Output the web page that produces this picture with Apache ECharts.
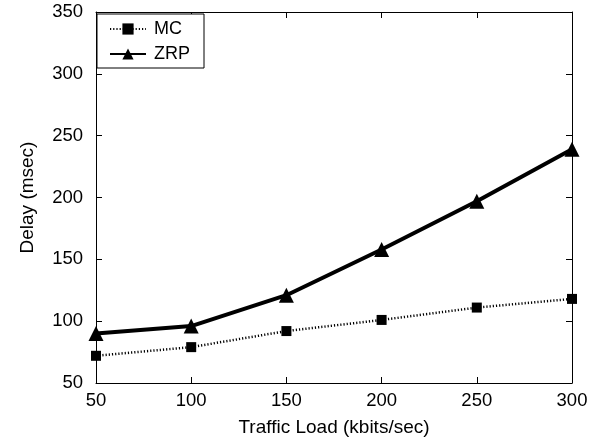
<!DOCTYPE html>
<html><head><meta charset="utf-8">
<script src="https://cdn.jsdelivr.net/npm/echarts@6/dist/echarts.min.js"></script>
<style>html,body{margin:0;padding:0;background:#fff}#c{width:600px;height:442px}</style>
</head><body><div id="c"></div>
<script>
const loads = [50, 100, 150, 200, 250, 300];
const mcDelay = [72, 79, 92, 101, 111, 118];
const zrpDelay = [90, 96, 121, 158, 197, 239];
const xTicks = [50, 100, 150, 200, 250, 300];
const yTicks = [50, 100, 150, 200, 250, 300, 350];

const font = 'Liberation Sans, Arial, sans-serif';
const chart = echarts.init(document.getElementById('c'));
const axisCommon = {
  type: 'value',
  axisLine: { show: true, lineStyle: { color: '#000', width: 1 } },
  axisTick: { show: true, inside: true, length: 6, lineStyle: { color: '#000' } },
  splitLine: { show: false }
};
chart.setOption({
  backgroundColor: '#fff',
  animation: false,
  grid: { left: 96, right: 28, top: 12, bottom: 59 },
  legend: {
    orient: 'vertical', left: 97, top: 14,
    backgroundColor: '#fff',
    borderColor: '#000', borderWidth: 1, borderRadius: 0,
    padding: [6, 14, 5, 12], itemGap: 7, itemWidth: 36, itemHeight: 14,
    textStyle: { fontFamily: font, fontSize: 18, color: '#000', padding: [0, 0, 0, 3] },
    data: ['MC', 'ZRP']
  },
  xAxis: [
    Object.assign({}, axisCommon, {
      min: xTicks[0], max: xTicks[xTicks.length - 1], interval: 50,
      name: 'Traffic Load (kbits/sec)', nameLocation: 'middle', nameGap: 35,
      nameTextStyle: { fontFamily: font, fontSize: 19, color: '#000' },
      axisLabel: { fontFamily: font, fontSize: 18.5, color: '#000', margin: 8 }
    }),
    Object.assign({}, axisCommon, {
      position: 'top', min: xTicks[0], max: xTicks[xTicks.length - 1], interval: 50,
      axisLabel: { show: false }
    })
  ],
  yAxis: [
    Object.assign({}, axisCommon, {
      min: yTicks[0], max: yTicks[yTicks.length - 1], interval: 50,
      name: 'Delay (msec)', nameLocation: 'middle', nameGap: 59,
      nameTextStyle: { fontFamily: font, fontSize: 19, color: '#000' },
      axisLabel: { fontFamily: font, fontSize: 18.5, color: '#000', margin: 13 }
    }),
    Object.assign({}, axisCommon, {
      position: 'right', min: yTicks[0], max: yTicks[yTicks.length - 1], interval: 50,
      axisLabel: { show: false }
    })
  ],
  series: [
    {
      name: 'MC', type: 'line',
      data: loads.map((x, i) => [x, mcDelay[i]]),
      symbol: 'rect', symbolSize: 10,
      itemStyle: { color: '#000' },
      lineStyle: { color: '#000', width: 2.5, type: [1.2, 2] }
    },
    {
      name: 'ZRP', type: 'line',
      data: loads.map((x, i) => [x, zrpDelay[i]]),
      symbol: 'triangle', symbolSize: 15,
      itemStyle: { color: '#000' },
      lineStyle: { color: '#000', width: 4 }
    }
  ]
});
</script></body></html>
